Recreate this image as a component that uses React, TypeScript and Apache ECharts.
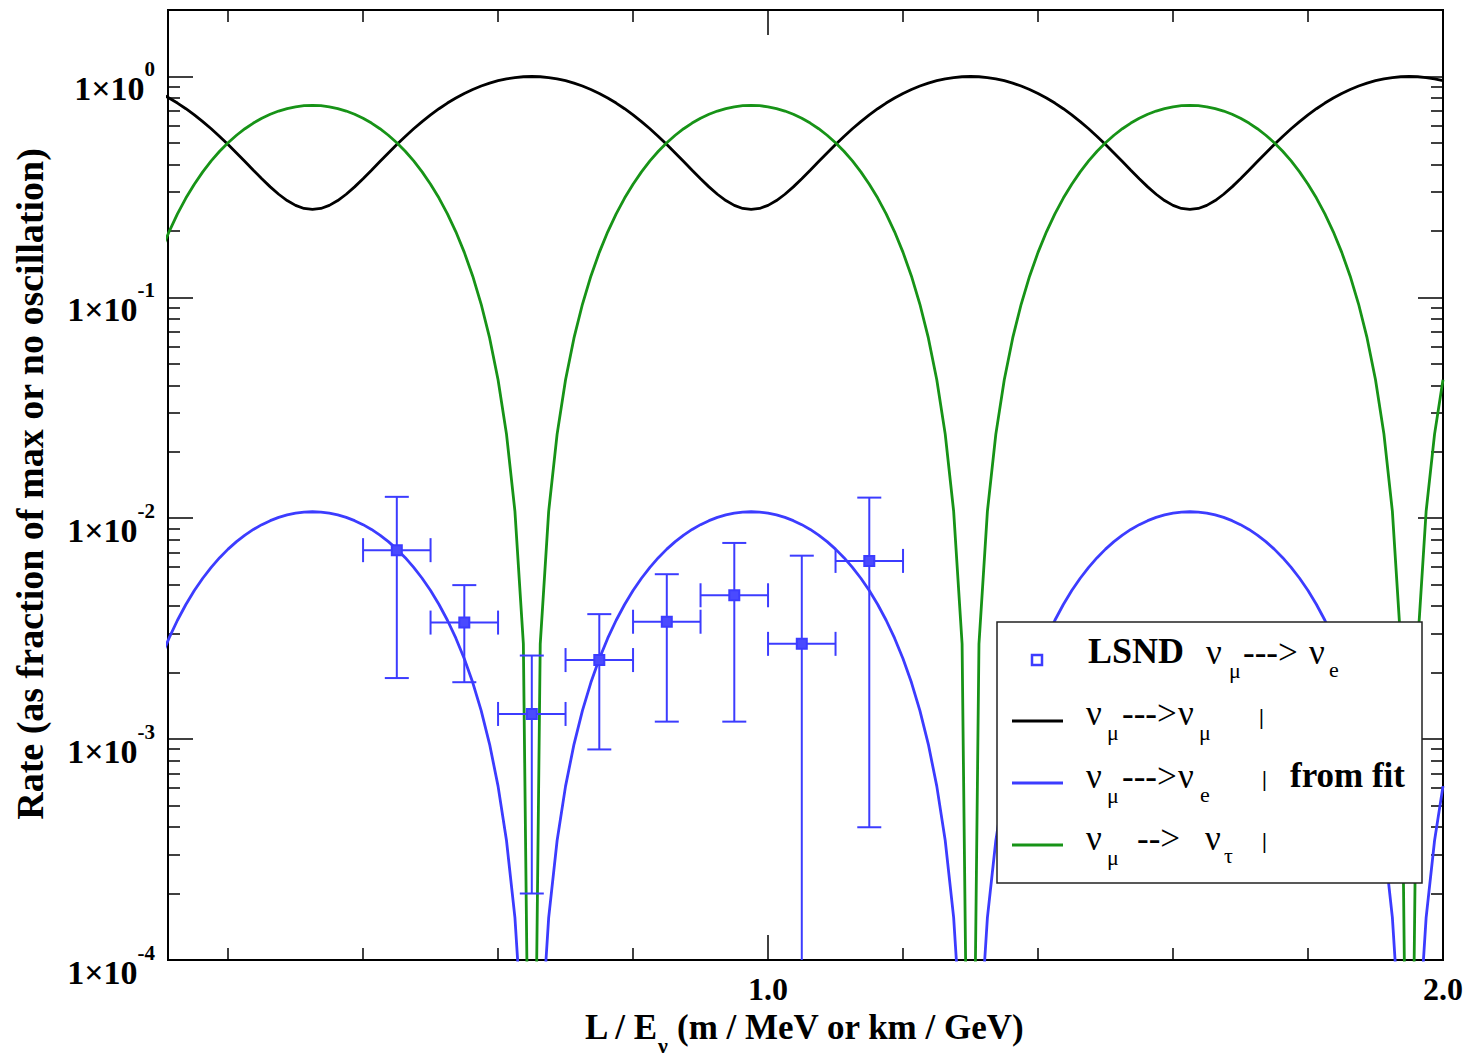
import React, { useEffect, useRef } from 'react';
import * as echarts from 'echarts';

// ---------- data ----------
// x grid (L/E, m/MeV)
const X = [
  0.1, 0.1125, 0.125, 0.1375, 0.15, 0.1625, 0.175, 0.1875, 0.2, 0.2125, 0.225, 0.2375, 0.25, 0.2625, 0.275, 0.2875, 0.3, 0.3125, 0.325,
  0.3375, 0.35, 0.3625, 0.375, 0.3875, 0.4, 0.4125, 0.425, 0.4375, 0.45, 0.4625, 0.475, 0.4875, 0.5, 0.5125, 0.525, 0.5375, 0.55, 0.5625, 0.575, 0.5875, 0.6, 0.6125, 0.625, 0.6375, 0.65,
  0.6625, 0.675, 0.6875, 0.7, 0.7125, 0.725, 0.7375, 0.75, 0.7625, 0.775, 0.7875, 0.8, 0.8125, 0.825, 0.8375, 0.85, 0.8625, 0.875, 0.8875, 0.9, 0.9125, 0.925, 0.9375, 0.95, 0.9625, 0.975,
  0.9875, 1.0, 1.0125, 1.025, 1.0375, 1.05, 1.0625, 1.075, 1.0875, 1.1, 1.1125, 1.125, 1.1375, 1.15, 1.1625, 1.175, 1.1875, 1.2, 1.2125, 1.225, 1.2375, 1.25, 1.2625, 1.275, 1.2875, 1.3,
  1.3125, 1.325, 1.3375, 1.35, 1.3625, 1.375, 1.3875, 1.4, 1.4125, 1.425, 1.4375, 1.45, 1.4625, 1.475, 1.4875, 1.5, 1.5125, 1.525, 1.5375, 1.55, 1.5625, 1.575, 1.5875, 1.6, 1.6125, 1.625,
  1.6375, 1.65, 1.6625, 1.675, 1.6875, 1.7, 1.7125, 1.725, 1.7375, 1.75, 1.7625, 1.775, 1.7875, 1.8, 1.8125, 1.825, 1.8375, 1.85, 1.8625, 1.875, 1.8875, 1.9, 1.9125, 1.925, 1.9375, 1.95,
  1.9625, 1.975, 1.9875, 2.0,
];

// nu_mu -> nu_mu (black)
const NUMU_NUMU = [
  0.8380, 0.7993, 0.7580, 0.7147, 0.6702, 0.6250, 0.5798, 0.5353, 0.4920, 0.4507, 0.4120, 0.3764, 0.3443, 0.3164, 0.2930, 0.2744, 0.2609, 0.2527, 0.2500,
  0.2527, 0.2609, 0.2744, 0.2930, 0.3164, 0.3443, 0.3764, 0.4120, 0.4507, 0.4920, 0.5353, 0.5798, 0.6250, 0.6702, 0.7147, 0.7580, 0.7993, 0.8380, 0.8736, 0.9057, 0.9336, 0.9570, 0.9756, 0.9891, 0.9973, 1.0,
  0.9973, 0.9891, 0.9756, 0.9570, 0.9336, 0.9057, 0.8736, 0.8380, 0.7993, 0.7580, 0.7147, 0.6702, 0.6250, 0.5798, 0.5353, 0.4920, 0.4507, 0.4120, 0.3764, 0.3443, 0.3164, 0.2930, 0.2744, 0.2609, 0.2527, 0.2500,
  0.2527, 0.2609, 0.2744, 0.2930, 0.3164, 0.3443, 0.3764, 0.4120, 0.4507, 0.4920, 0.5353, 0.5798, 0.6250, 0.6702, 0.7147, 0.7580, 0.7993, 0.8380, 0.8736, 0.9057, 0.9336, 0.9570, 0.9756, 0.9891, 0.9973, 1.0,
  0.9973, 0.9891, 0.9756, 0.9570, 0.9336, 0.9057, 0.8736, 0.8380, 0.7993, 0.7580, 0.7147, 0.6702, 0.6250, 0.5798, 0.5353, 0.4920, 0.4507, 0.4120, 0.3764, 0.3443, 0.3164, 0.2930, 0.2744, 0.2609, 0.2527, 0.2500,
  0.2527, 0.2609, 0.2744, 0.2930, 0.3164, 0.3443, 0.3764, 0.4120, 0.4507, 0.4920, 0.5353, 0.5798, 0.6250, 0.6702, 0.7147, 0.7580, 0.7993, 0.8380, 0.8736, 0.9057, 0.9336, 0.9570, 0.9756, 0.9891, 0.9973, 1.0,
  0.9973, 0.9891, 0.9756, 0.9570,
];

// nu_mu -> nu_e (blue)
const NUMU_NUE = [
  0.002311, 0.002864, 0.003453, 0.004070, 0.004705, 0.005350, 0.005995, 0.006630, 0.007247, 0.007836, 0.008389, 0.008897, 0.009355, 0.009753, 0.010087, 0.010352, 0.010545, 0.010661, 0.010700,
  0.010661, 0.010545, 0.010352, 0.010087, 0.009753, 0.009355, 0.008897, 0.008389, 0.007836, 0.007247, 0.006630, 0.005995, 0.005350, 0.004705, 0.004070, 0.003453, 0.002864, 0.002311, 0.001803, 0.001345, 0.0009473, 0.0006128, 0.0003476, 0.0001555, 0.00003901, 0.000001,
  0.00003901, 0.0001555, 0.0003476, 0.0006128, 0.0009473, 0.001345, 0.001803, 0.002311, 0.002864, 0.003453, 0.004070, 0.004705, 0.005350, 0.005995, 0.006630, 0.007247, 0.007836, 0.008389, 0.008897, 0.009355, 0.009753, 0.010087, 0.010352, 0.010545, 0.010661, 0.010700,
  0.010661, 0.010545, 0.010352, 0.010087, 0.009753, 0.009355, 0.008897, 0.008389, 0.007836, 0.007247, 0.006630, 0.005995, 0.005350, 0.004705, 0.004070, 0.003453, 0.002864, 0.002311, 0.001803, 0.001345, 0.0009473, 0.0006128, 0.0003476, 0.0001555, 0.00003901, 0.000001,
  0.00003901, 0.0001555, 0.0003476, 0.0006128, 0.0009473, 0.001345, 0.001803, 0.002311, 0.002864, 0.003453, 0.004070, 0.004705, 0.005350, 0.005995, 0.006630, 0.007247, 0.007836, 0.008389, 0.008897, 0.009355, 0.009753, 0.010087, 0.010352, 0.010545, 0.010661, 0.010700,
  0.010661, 0.010545, 0.010352, 0.010087, 0.009753, 0.009355, 0.008897, 0.008389, 0.007836, 0.007247, 0.006630, 0.005995, 0.005350, 0.004705, 0.004070, 0.003453, 0.002864, 0.002311, 0.001803, 0.001345, 0.0009473, 0.0006128, 0.0003476, 0.0001555, 0.00003901, 0.000001,
  0.00003901, 0.0001555, 0.0003476, 0.0006128,
];

// nu_mu -> nu_tau (green)
const NUMU_NUTAU = [
  0.1598, 0.1981, 0.2388, 0.2815, 0.3254, 0.3700, 0.4146, 0.4585, 0.5012, 0.5419, 0.5802, 0.6153, 0.6469, 0.6745, 0.6976, 0.7160, 0.7292, 0.7373, 0.7400,
  0.7373, 0.7292, 0.7160, 0.6976, 0.6745, 0.6469, 0.6153, 0.5802, 0.5419, 0.5012, 0.4585, 0.4146, 0.3700, 0.3254, 0.2815, 0.2388, 0.1981, 0.1598, 0.1247, 0.09305, 0.06551, 0.04238, 0.02404, 0.01075, 0.002698, 0.000001,
  0.002698, 0.01075, 0.02404, 0.04238, 0.06551, 0.09305, 0.1247, 0.1598, 0.1981, 0.2388, 0.2815, 0.3254, 0.3700, 0.4146, 0.4585, 0.5012, 0.5419, 0.5802, 0.6153, 0.6469, 0.6745, 0.6976, 0.7160, 0.7292, 0.7373, 0.7400,
  0.7373, 0.7292, 0.7160, 0.6976, 0.6745, 0.6469, 0.6153, 0.5802, 0.5419, 0.5012, 0.4585, 0.4146, 0.3700, 0.3254, 0.2815, 0.2388, 0.1981, 0.1598, 0.1247, 0.09305, 0.06551, 0.04238, 0.02404, 0.01075, 0.002698, 0.000001,
  0.002698, 0.01075, 0.02404, 0.04238, 0.06551, 0.09305, 0.1247, 0.1598, 0.1981, 0.2388, 0.2815, 0.3254, 0.3700, 0.4146, 0.4585, 0.5012, 0.5419, 0.5802, 0.6153, 0.6469, 0.6745, 0.6976, 0.7160, 0.7292, 0.7373, 0.7400,
  0.7373, 0.7292, 0.7160, 0.6976, 0.6745, 0.6469, 0.6153, 0.5802, 0.5419, 0.5012, 0.4585, 0.4146, 0.3700, 0.3254, 0.2815, 0.2388, 0.1981, 0.1598, 0.1247, 0.09305, 0.06551, 0.04238, 0.02404, 0.01075, 0.002698, 0.000001,
  0.002698, 0.01075, 0.02404, 0.04238,
];

// LSND points with error bars
const LSND_X = [0.45, 0.55, 0.65, 0.75, 0.85, 0.95, 1.05, 1.15];
const LSND_X_LO = [0.40, 0.50, 0.60, 0.70, 0.80, 0.90, 1.00, 1.10];
const LSND_X_HI = [0.50, 0.60, 0.70, 0.80, 0.90, 1.00, 1.10, 1.20];
const LSND_Y = [0.00717, 0.00337, 0.00130, 0.00228, 0.00340, 0.00448, 0.00270, 0.00641];
const LSND_Y_LO = [0.00189, 0.00181, 0.000200, 0.000898, 0.00120, 0.00120, 0.000001, 0.000399];
const LSND_Y_HI = [0.0125, 0.00498, 0.00239, 0.00368, 0.00558, 0.00773, 0.00677, 0.0124];

// axes
const X_MIN = 0.111;
const X_MAX = 2.0;
const X_MINOR_TICKS = [0.2, 0.4, 0.6, 0.8, 1.2, 1.4, 1.6, 1.8];
const X_MAJOR_TICKS = [1.0, 2.0];
const X_TICK_LABELS = [1.0, 2.0];
const Y_MIN = 0.0001;
const Y_MAX = 2;
const Y_MAJOR_TICKS = [0.0001, 0.001, 0.01, 0.1, 1];
const Y_MINOR_TICKS = [
  0.0002, 0.0003, 0.0004, 0.0005, 0.0006, 0.0007, 0.0008, 0.0009,
  0.002, 0.003, 0.004, 0.005, 0.006, 0.007, 0.008, 0.009,
  0.02, 0.03, 0.04, 0.05, 0.06, 0.07, 0.08, 0.09,
  0.2, 0.3, 0.4, 0.5, 0.6, 0.7, 0.8, 0.9,
];

// ---------- styles ----------
const SERIF = "'Liberation Serif', 'Times New Roman', serif";
const C_BLACK = '#000000';
const C_BLUE = '#3c3cff';
const C_GREEN = '#179317';
const TICK_STYLE = { color: '#000', width: 1.5 };

function buildOption() {
  const xBase = {
    type: 'value', min: X_MIN, max: X_MAX,
    axisLine: { show: false }, splitLine: { show: false }, axisLabel: { show: false },
  };
  const yBase = {
    type: 'log', logBase: 10, min: Y_MIN, max: Y_MAX,
    axisLine: { show: false }, splitLine: { show: false }, axisLabel: { show: false },
  };

  const xAxis = [
    { ...xBase, position: 'bottom', axisTick: { show: true, inside: true, length: 12, customValues: X_MINOR_TICKS, lineStyle: TICK_STYLE } },
    {
      ...xBase, position: 'bottom',
      axisTick: { show: true, inside: true, length: 25, customValues: X_MAJOR_TICKS, lineStyle: TICK_STYLE },
      axisLabel: {
        show: true, customValues: X_TICK_LABELS, margin: 13, showMinLabel: true, showMaxLabel: true,
        formatter: (v: number) => v.toFixed(1),
        fontFamily: SERIF, fontWeight: 'bold', fontSize: 32, color: '#000',
      },
    },
    { ...xBase, position: 'top', axisTick: { show: true, inside: true, length: 12, customValues: X_MINOR_TICKS, lineStyle: TICK_STYLE } },
    { ...xBase, position: 'top', axisTick: { show: true, inside: true, length: 25, customValues: X_MAJOR_TICKS, lineStyle: TICK_STYLE } },
  ];

  const yAxis = [
    {
      ...yBase, position: 'left',
      axisTick: { show: true, inside: true, length: 25, customValues: Y_MAJOR_TICKS, lineStyle: TICK_STYLE },
      axisLabel: {
        show: true, customValues: Y_MAJOR_TICKS, margin: 13, showMinLabel: true, showMaxLabel: true,
        padding: [24, 0, 0, 0],
        formatter: (v: number) => `{m|1×10}{e|${Math.round(Math.log10(v))}}`,
        rich: {
          m: { fontFamily: SERIF, fontWeight: 'bold', fontSize: 34, color: '#000', lineHeight: 60 },
          e: { fontFamily: SERIF, fontWeight: 'bold', fontSize: 21, color: '#000', lineHeight: 20, verticalAlign: 'top' },
        },
      },
    },
    { ...yBase, position: 'left', axisTick: { show: true, inside: true, length: 12, customValues: Y_MINOR_TICKS, lineStyle: TICK_STYLE } },
    { ...yBase, position: 'right', axisTick: { show: true, inside: true, length: 25, customValues: Y_MAJOR_TICKS, lineStyle: TICK_STYLE } },
    { ...yBase, position: 'right', axisTick: { show: true, inside: true, length: 12, customValues: Y_MINOR_TICKS, lineStyle: TICK_STYLE } },
  ];

  const lineSeries = (name: string, ys: number[], color: string, z: number) => ({
    type: 'line', name, xAxisIndex: 0, yAxisIndex: 0,
    data: X.map((x, i) => [x, ys[i]]),
    showSymbol: false, symbol: 'none', clip: true, z,
    lineStyle: { color, width: 2.8 },
  });

  const errData = LSND_X.map((x, i) => [x, LSND_Y[i], LSND_X_LO[i], LSND_X_HI[i], LSND_Y_LO[i], LSND_Y_HI[i]]);

  const renderErr = (params: any, api: any) => {
    const x = api.value(0), y = api.value(1);
    const c = api.coord([x, y]);
    const top = api.coord([x, api.value(5)]);
    const bot = api.coord([x, api.value(4)]);
    const l = api.coord([api.value(2), y]);
    const r = api.coord([api.value(3), y]);
    const cs = params.coordSys;
    const yBottom = cs.y + cs.height;
    const botY = Math.min(bot[1], yBottom);
    const cap = 12;
    const st = { stroke: C_BLUE, lineWidth: 2, fill: null };
    const children: any[] = [
      { type: 'line', shape: { x1: c[0], y1: top[1], x2: c[0], y2: botY }, style: st },
      { type: 'line', shape: { x1: l[0], y1: c[1], x2: r[0], y2: c[1] }, style: st },
      { type: 'line', shape: { x1: c[0] - cap, y1: top[1], x2: c[0] + cap, y2: top[1] }, style: st },
      { type: 'line', shape: { x1: l[0], y1: c[1] - cap, x2: l[0], y2: c[1] + cap }, style: st },
      { type: 'line', shape: { x1: r[0], y1: c[1] - cap, x2: r[0], y2: c[1] + cap }, style: st },
    ];
    if (bot[1] <= yBottom) {
      children.push({ type: 'line', shape: { x1: c[0] - cap, y1: bot[1], x2: c[0] + cap, y2: bot[1] }, style: st });
    }
    children.push({ type: 'rect', shape: { x: c[0] - 5, y: c[1] - 5, width: 10, height: 10 }, style: { fill: '#4a4aff', stroke: C_BLUE, lineWidth: 2 } });
    return { type: 'group', children };
  };

  const txt = (text: string, x: number, y: number, size: number, weight: string = 'normal', align: string = 'left', extra: any = {}) => ({
    type: 'text', x, y, z: 110, silent: true, ...extra,
    style: { text, fill: '#000', fontFamily: SERIF, fontSize: size, fontWeight: weight, align, verticalAlign: 'middle' },
  });
  const seg = (x1: number, x2: number, y: number, color: string) => ({
    type: 'line', z: 110, silent: true, shape: { x1, y1: y, x2, y2: y }, style: { stroke: color, lineWidth: 2.8 },
  });

  const MAIN = 35;
  const SUB = 22;
  const graphic = [
    // axis titles
    txt('Rate (as fraction of max or no oscillation)', 30, 484, 38, 'bold', 'center', { rotation: Math.PI / 2 }),
    txt('L / E', 657, 1027, 35, 'bold', 'right'),
    txt('ν', 658, 1045, 22, 'bold', 'left'),
    txt('(m / MeV or km / GeV)', 677, 1027, 35, 'bold', 'left'),
    // legend box
    { type: 'rect', z: 100, silent: true, shape: { x: 997, y: 622, width: 425, height: 261 }, style: { fill: '#fff', stroke: '#222', lineWidth: 1.5 } },
    // row 1
    { type: 'rect', z: 110, silent: true, shape: { x: 1032, y: 655, width: 10, height: 10 }, style: { fill: '#fff', stroke: C_BLUE, lineWidth: 2.5 } },
    txt('LSND', 1088, 651, 36, 'bold'),
    txt('ν', 1206, 652, MAIN), txt('μ', 1229, 670, SUB), txt('--->', 1243, 652, MAIN), txt('ν', 1309, 652, MAIN), txt('e', 1329, 669, SUB),
    // row 2
    seg(1012, 1063, 721, C_BLACK),
    txt('ν', 1086, 713, MAIN), txt('μ', 1107, 732, SUB), txt('--->', 1122, 713, MAIN), txt('ν', 1178, 713, MAIN), txt('μ', 1199, 732, SUB),
    txt('|', 1259, 716, 22, 'bold'),
    // row 3
    seg(1012, 1063, 783, C_BLUE),
    txt('ν', 1086, 776, MAIN), txt('μ', 1107, 795, SUB), txt('--->', 1122, 776, MAIN), txt('ν', 1178, 776, MAIN), txt('e', 1200, 794, SUB),
    txt('|', 1262, 778, 22, 'bold'),
    txt('from fit', 1290, 775, 35, 'bold'),
    // row 4
    seg(1012, 1063, 845, C_GREEN),
    txt('ν', 1086, 838, MAIN), txt('μ', 1107, 857, SUB), txt('-->', 1137, 838, MAIN), txt('ν', 1205, 838, MAIN), txt('τ', 1224, 855, SUB),
    txt('|', 1262, 840, 22, 'bold'),
  ];

  return {
    animation: false,
    backgroundColor: '#fff',
    grid: {
      left: 168, top: 10, width: 1275, height: 950,
      show: true, borderColor: '#000', borderWidth: 2, backgroundColor: 'transparent',
      containLabel: false, outerBoundsMode: 'none',
    },
    xAxis,
    yAxis,
    series: [
      lineSeries('νμ-->νμ', NUMU_NUMU, C_BLACK, 2),
      lineSeries('νμ-->ντ', NUMU_NUTAU, C_GREEN, 3),
      lineSeries('νμ-->νe', NUMU_NUE, C_BLUE, 4),
      {
        type: 'custom', name: 'LSND', xAxisIndex: 0, yAxisIndex: 0, z: 5,
        data: errData, renderItem: renderErr,
        encode: { x: 0, y: 1 },
      },
    ],
    graphic,
  };
}

export default function App() {
  const ref = useRef<HTMLDivElement>(null);
  useEffect(() => {
    if (!ref.current) return;
    const chart = echarts.init(ref.current, null, { renderer: 'svg' });
    chart.setOption(buildOption() as any);
    return () => chart.dispose();
  }, []);
  return (
    <div
      ref={ref}
      style={{ position: 'absolute', left: 0, top: 0, width: 1471, height: 1057, background: '#fff' }}
    />
  );
}
